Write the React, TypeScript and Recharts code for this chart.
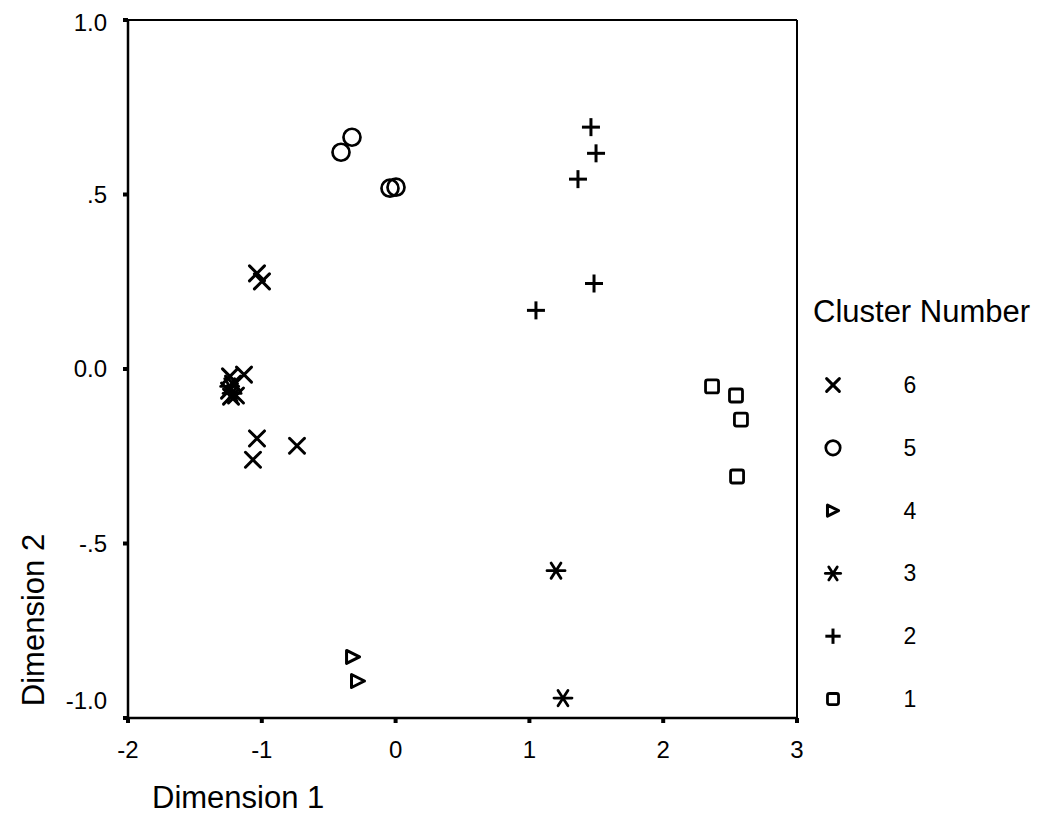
import {
  ScatterChart,
  Scatter,
  XAxis,
  YAxis,
  ReferenceLine,
  Legend,
  Label,
} from "recharts";

const FONT = "'Liberation Sans', Arial, sans-serif";

const X_TICKS = [-2, -1, 0, 1, 2, 3];
const Y_TICKS = [-1, -0.5, 0, 0.5, 1];
const Y_TICK_LABELS: Record<string, string> = {
  "1": "1.0",
  "0.5": ".5",
  "0": "0.0",
  "-0.5": "-.5",
  "-1": "-1.0",
};

// cluster members (Dimension 1, Dimension 2)
const cluster6 = [
  { x: -1.036, y: 0.274 },
  { x: -0.999, y: 0.251 },
  { x: -1.238, y: -0.021 },
  { x: -1.215, y: -0.042 },
  { x: -1.245, y: -0.062 },
  { x: -1.193, y: -0.076 },
  { x: -1.23, y: -0.079 },
  { x: -1.133, y: -0.016 },
  { x: -1.036, y: -0.199 },
  { x: -1.066, y: -0.26 },
  { x: -0.737, y: -0.22 },
];
const cluster5 = [
  { x: -0.326, y: 0.664 },
  { x: -0.408, y: 0.621 },
  { x: -0.042, y: 0.518 },
  { x: 0.003, y: 0.521 },
];
const cluster4 = [
  { x: -0.318, y: -0.825 },
  { x: -0.281, y: -0.894 },
];
const cluster3 = [
  { x: 1.199, y: -0.578 },
  { x: 1.251, y: -0.943 },
  { x: -1.24, y: -0.05 },
  { x: -1.222, y: -0.07 },
];
const cluster2 = [
  { x: 1.46, y: 0.693 },
  { x: 1.498, y: 0.618 },
  { x: 1.363, y: 0.544 },
  { x: 1.483, y: 0.245 },
  { x: 1.049, y: 0.168 },
];
const cluster1 = [
  { x: 2.365, y: -0.05 },
  { x: 2.544, y: -0.076 },
  { x: 2.581, y: -0.145 },
  { x: 2.552, y: -0.308 },
];

type Kind = "cross" | "circle" | "triangle" | "star" | "plus" | "square";

const SERIES: { name: string; kind: Kind; data: { x: number; y: number }[] }[] = [
  { name: "6", kind: "cross", data: cluster6 },
  { name: "5", kind: "circle", data: cluster5 },
  { name: "4", kind: "triangle", data: cluster4 },
  { name: "3", kind: "star", data: cluster3 },
  { name: "2", kind: "plus", data: cluster2 },
  { name: "1", kind: "square", data: cluster1 },
];

const Marker = ({ kind, cx, cy, s = 1 }: { kind: Kind; cx: number; cy: number; s?: number }) => {
  const st = { stroke: "#000", strokeWidth: 3, fill: "none", strokeLinecap: "round" as const };
  switch (kind) {
    case "cross": {
      const r = 7.5 * s;
      return (
        <g {...st}>
          <line x1={cx - r} y1={cy - r} x2={cx + r} y2={cy + r} />
          <line x1={cx - r} y1={cy + r} x2={cx + r} y2={cy - r} />
        </g>
      );
    }
    case "circle":
      return <circle cx={cx} cy={cy} r={8.5 * s} {...st} strokeWidth={2.7} />;
    case "triangle": {
      const w = 6.5 * s;
      return (
        <polygon
          points={`${cx - w},${cy - w} ${cx + w},${cy} ${cx - w},${cy + w}`}
          {...st}
          strokeLinejoin="round"
        />
      );
    }
    case "star": {
      const r = 9 * s;
      const dx = r * 0.55;
      const dy = r * 0.85;
      return (
        <g {...st} strokeWidth={2.8}>
          <line x1={cx - r} y1={cy} x2={cx + r} y2={cy} />
          <line x1={cx - dx} y1={cy - dy} x2={cx + dx} y2={cy + dy} />
          <line x1={cx - dx} y1={cy + dy} x2={cx + dx} y2={cy - dy} />
        </g>
      );
    }
    case "plus": {
      const r = 9 * s;
      return (
        <g {...st} strokeLinecap="butt">
          <line x1={cx - r} y1={cy} x2={cx + r} y2={cy} />
          <line x1={cx} y1={cy - r} x2={cx} y2={cy + r} />
        </g>
      );
    }
    case "square": {
      const h = 6.5 * s;
      return (
        <rect x={cx - h} y={cy - h} width={2 * h} height={2 * h} rx={2} {...st} strokeWidth={2.8} />
      );
    }
  }
};

const XTick = ({ x, y, payload }: any) => (
  <text x={x} y={y + 33} textAnchor="middle" fontSize={24} fontFamily={FONT} fill="#000">
    {payload.value}
  </text>
);

const YTick = ({ x, y, payload }: any) => {
  const shift = payload.value === -1 ? -17 : payload.value === 1 ? 3 : 0;
  return (
    <text x={x} y={y + 8 + shift} textAnchor="end" fontSize={24} fontFamily={FONT} fill="#000">
      {Y_TICK_LABELS[String(payload.value)]}
    </text>
  );
};

const ClusterLegend = () => (
  <svg width={248} height={430} style={{ display: "block" }}>
    <text x={8} y={29} fontSize={31} fontFamily={FONT} fill="#000">
      Cluster Number
    </text>
    {SERIES.map((s, i) => {
      const cy = 92 + i * 62.8;
      return (
        <g key={s.name}>
          <Marker kind={s.kind} cx={28} cy={cy} s={0.85} />
          <text x={105} y={cy + 8} textAnchor="middle" fontSize={23} fontFamily={FONT} fill="#000">
            {s.name}
          </text>
        </g>
      );
    })}
  </svg>
);

export default function App() {
  return (
    <ScatterChart
      width={1045}
      height={830}
      margin={{ top: 12, right: 8, bottom: 0, left: 0 }}
      style={{ background: "#fff" }}
    >
      <XAxis
        type="number"
        dataKey="x"
        domain={[-2, 3]}
        ticks={X_TICKS}
        allowDataOverflow
        height={120}
        axisLine={{ stroke: "#000", strokeWidth: 2.5 }}
        tickLine={{ stroke: "#000", strokeWidth: 4 }}
        tickSize={5}
        tick={<XTick />}
      >
        <Label
          content={() => (
            <text x={144} y={800} fontSize={31} fontFamily={FONT} fill="#000">
              Dimension 1
            </text>
          )}
        />
      </XAxis>
      <YAxis
        type="number"
        dataKey="y"
        domain={[-1, 1]}
        ticks={Y_TICKS}
        allowDataOverflow
        width={120}
        axisLine={{ stroke: "#000", strokeWidth: 2.5 }}
        tickLine={{ stroke: "#000", strokeWidth: 4 }}
        tickSize={5}
        tickMargin={16}
        tick={<YTick />}
      >
        <Label
          content={() => (
            <text
              x={36}
              y={612}
              transform="rotate(-90 36 612)"
              textAnchor="middle"
              fontSize={31}
              fontFamily={FONT}
              fill="#000"
            >
              Dimension 2
            </text>
          )}
        />
      </YAxis>
      <ReferenceLine y={1} stroke="#000" strokeWidth={2} />
      <ReferenceLine x={3} stroke="#000" strokeWidth={2} />
      {SERIES.map((s) => (
        <Scatter
          key={s.name}
          name={s.name}
          data={s.data}
          isAnimationActive={false}
          shape={(p: any) => <Marker kind={s.kind} cx={p.cx} cy={p.cy} />}
        />
      ))}
      <Legend
        layout="horizontal"
        verticalAlign="middle"
        align="right"
        wrapperStyle={{ left: 797, top: 285, width: 248, right: "auto", bottom: "auto" }}
        content={() => <ClusterLegend />}
      />
    </ScatterChart>
  );
}
